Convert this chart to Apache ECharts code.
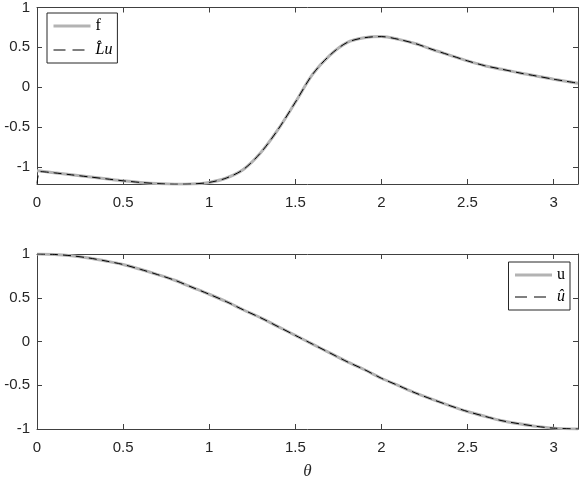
<!DOCTYPE html>
<html>
<head>
<meta charset="utf-8">
<script src="https://cdn.jsdelivr.net/npm/echarts@6/dist/echarts.min.js"></script>
<style>
  html, body { margin: 0; padding: 0; background: #fff; }
  #chart { width: 581px; height: 481px; }
</style>
</head>
<body>
<div id="chart"></div>
<script>
// top panel: f and its reconstruction
const thetaTop = [0, 0.02, 0.1, 0.2, 0.3, 0.4, 0.5, 0.6, 0.7, 0.8, 0.9, 1.0, 1.1, 1.2, 1.3, 1.4, 1.5,
  1.6, 1.7, 1.8, 1.9, 2.0, 2.1, 2.2, 2.3, 2.4, 2.5, 2.6, 2.7, 2.8, 2.9, 3.0, 3.1416];
const fVals = [-1.05, -1.053, -1.075, -1.10, -1.125, -1.15, -1.175, -1.195, -1.21, -1.218, -1.215, -1.195,
  -1.14, -1.03, -0.82, -0.53, -0.19, 0.16, 0.40, 0.56, 0.62, 0.635, 0.60, 0.545, 0.47, 0.40, 0.33,
  0.27, 0.225, 0.18, 0.14, 0.10, 0.05];
const luVals = [-1.21, -1.06, -1.075, -1.10, -1.125, -1.15, -1.175, -1.195, -1.21, -1.218, -1.215, -1.195,
  -1.14, -1.03, -0.82, -0.53, -0.19, 0.16, 0.40, 0.56, 0.62, 0.635, 0.60, 0.545, 0.47, 0.40, 0.33,
  0.27, 0.225, 0.18, 0.14, 0.10, 0.05];

// bottom panel: u and u hat
const thetaBottom = [0, 0.1, 0.2, 0.3, 0.4, 0.5, 0.6, 0.7, 0.8, 0.9, 1.0, 1.1, 1.2, 1.3, 1.4, 1.5,
  1.6, 1.7, 1.8, 1.9, 2.0, 2.1, 2.2, 2.3, 2.4, 2.5, 2.6, 2.7, 2.8, 2.9, 3.0, 3.1416];
const uVals = [1, 0.995, 0.98, 0.955, 0.92, 0.88, 0.825, 0.765, 0.70, 0.62, 0.54, 0.455, 0.36, 0.27,
  0.17, 0.07, -0.03, -0.13, -0.23, -0.32, -0.42, -0.505, -0.59, -0.665, -0.735, -0.80, -0.855,
  -0.905, -0.94, -0.97, -0.99, -1];
const uHatVals = [1, 0.995, 0.98, 0.955, 0.92, 0.88, 0.825, 0.765, 0.70, 0.62, 0.54, 0.455, 0.36, 0.27,
  0.17, 0.07, -0.03, -0.13, -0.23, -0.32, -0.42, -0.505, -0.59, -0.665, -0.735, -0.80, -0.855,
  -0.905, -0.94, -0.97, -0.99, -1];

const xTicks = [0, 0.5, 1, 1.5, 2, 2.5, 3];
const yTicks = [-1, -0.5, 0, 0.5, 1];

const axisColor = '#404040';
const textColor = '#262626';
const labelFont = 'Liberation Sans';

const pair = (xs, ys) => xs.map((x, i) => [x, ys[i]]);

function xAx(grid, pos, show) {
  return {
    type: 'value', gridIndex: grid, position: pos, min: 0, max: Math.PI,
    axisLine: { show: true, onZero: false, lineStyle: { color: axisColor, width: 1 } },
    axisTick: { show: true, inside: true, length: 5, customValues: xTicks, lineStyle: { color: axisColor } },
    axisLabel: { show: show, customValues: xTicks, margin: 11, color: textColor, fontSize: 15, fontFamily: labelFont },
    splitLine: { show: false }
  };
}
function yAx(grid, pos, show, min) {
  return {
    type: 'value', gridIndex: grid, position: pos, min: min, max: 1,
    axisLine: { show: true, onZero: false, lineStyle: { color: axisColor, width: 1 } },
    axisTick: { show: true, inside: true, length: 5, customValues: yTicks, lineStyle: { color: axisColor } },
    axisLabel: { show: show, customValues: yTicks, margin: 7, color: textColor, fontSize: 15, fontFamily: labelFont },
    splitLine: { show: false }
  };
}

const legendText = {
  color: '#000',
  fontSize: 16,
  fontFamily: 'Liberation Serif',
  rich: {
    r: { fontFamily: 'Liberation Serif', fontSize: 16, color: '#000' },
    i: { fontFamily: 'Liberation Serif', fontStyle: 'italic', fontSize: 16, color: '#000' }
  }
};
const legendNames = { f: '{r|f}', Lu: '{i|L\u0302u}', u: '{r|u}', uhat: '{i|u\u0302}' };
const solidKey = { lineStyle: { width: 3, color: '#b3b3b3' } };
const dashKey = { lineStyle: { width: 1, color: '#000', type: [12, 7] } };

const legendBase = {
  orient: 'vertical', padding: [5, 5, 5, 5], itemWidth: 37, itemHeight: 14,
  borderColor: textColor, borderWidth: 1, backgroundColor: '#fff',
  itemStyle: { opacity: 0 },
  textStyle: legendText, formatter: n => legendNames[n]
};

const chart = echarts.init(document.getElementById('chart'), null, { renderer: 'canvas' });
chart.setOption({
  animation: false,
  backgroundColor: '#fff',
  grid: [
    { left: 37, right: 3, top: 5, height: 179 },
    { left: 37, right: 3, top: 254, height: 179 }
  ],
  xAxis: [
    xAx(0, 'bottom', true),
    xAx(0, 'top', false),
    Object.assign(xAx(1, 'bottom', true), {
      name: '\u03b8', nameLocation: 'middle', nameGap: 34,
      nameTextStyle: { fontFamily: 'Liberation Serif', fontStyle: 'italic', fontSize: 17, color: textColor }
    }),
    xAx(1, 'top', false)
  ],
  yAxis: [
    yAx(0, 'left', true, -1.215),
    yAx(0, 'right', false, -1.215),
    yAx(1, 'left', true, -1),
    yAx(1, 'right', false, -1)
  ],
  legend: [
    Object.assign({
      data: [Object.assign({ name: 'f' }, solidKey), Object.assign({ name: 'Lu' }, dashKey)],
      left: 47, top: 13, itemGap: 8
    }, legendBase),
    Object.assign({
      data: [Object.assign({ name: 'u' }, solidKey), Object.assign({ name: 'uhat' }, dashKey)],
      right: 11, top: 262, itemGap: 6
    }, legendBase)
  ],
  series: [
    {
      name: 'f', type: 'line', xAxisIndex: 0, yAxisIndex: 0, data: pair(thetaTop, fVals),
      smooth: 0.3, symbol: 'none',
      lineStyle: { color: '#b3b3b3', width: 3 }, itemStyle: { color: '#b3b3b3' }, z: 2
    },
    {
      name: 'Lu', type: 'line', xAxisIndex: 0, yAxisIndex: 0, data: pair(thetaTop, luVals),
      smooth: 0.3, symbol: 'none',
      lineStyle: { color: '#000', width: 1, type: [8, 5] }, itemStyle: { color: '#000' }, z: 3
    },
    {
      name: 'u', type: 'line', xAxisIndex: 2, yAxisIndex: 2, data: pair(thetaBottom, uVals),
      smooth: 0.3, symbol: 'none',
      lineStyle: { color: '#b3b3b3', width: 3 }, itemStyle: { color: '#b3b3b3' }, z: 2
    },
    {
      name: 'uhat', type: 'line', xAxisIndex: 2, yAxisIndex: 2, data: pair(thetaBottom, uHatVals),
      smooth: 0.3, symbol: 'none',
      lineStyle: { color: '#000', width: 1, type: [8, 5] }, itemStyle: { color: '#000' }, z: 3
    }
  ]
});
</script>
</body>
</html>
